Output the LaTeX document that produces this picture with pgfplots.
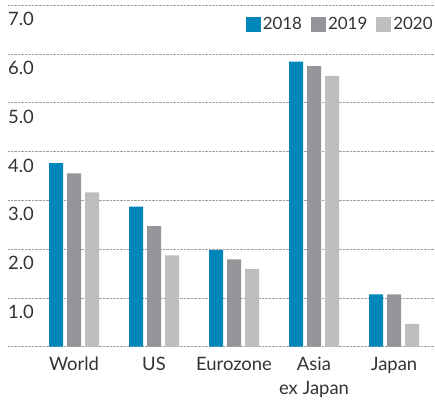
\documentclass[border=0pt]{standalone}
\usepackage{pgfplots}
\pgfplotsset{compat=1.18}
\usepackage{fontspec}
\setmainfont{Lato}
\definecolor{c18}{HTML}{0087BA}
\definecolor{c19}{HTML}{939598}
\definecolor{c20}{HTML}{BCBEC0}
\definecolor{txt}{HTML}{333333}
\definecolor{gridc}{HTML}{A0A0A0}
\begin{document}
\begin{tikzpicture}
\useasboundingbox (-8bp,-53.3bp) rectangle (427bp,346.7bp);
\begin{axis}[
    at={(0,0)}, anchor=south west,
    x=80bp, y=48.8bp,
    xmin=-0.825, xmax=4.51,
    ymin=0, ymax=7,
    axis line style={draw=none},
    ybar=4bp, bar width=14bp,
    ymajorgrids=true,
    grid style={gridc, densely dotted, line width=0.6bp},
    ytick={0,1,...,7},
    yticklabel style={anchor=north west, inner sep=0pt, yshift=-7bp, xshift=0bp},
    yticklabel={\ifdim\tick pt>0.5pt\pgfmathprintnumber[fixed, fixed zerofill, precision=1]{\tick}\fi},
    xtick={0,1,2,3,4},
    xticklabels={World, US, Eurozone, Asia\\ex Japan, Japan},
    xticklabel style={align=center, yshift=-7bp},
    major tick length=0pt,
    tick label style={font=\fontsize{18.5}{24}\selectfont, text=txt},
    /pgf/number format/assume math mode=true,
    legend columns=-1,
    legend style={at={(1,1)}, anchor=north east, yshift=-10bp, draw=none, fill=none,
        font=\fontsize{17}{20}\selectfont, text=txt, inner sep=0pt,
        /tikz/every even column/.append style={column sep=7bp}},
]
\addplot[fill=c18, draw=none, legend image code/.code={\fill[c18] (0bp,-7.5bp) rectangle (15bp,7.5bp);}]
    coordinates {(0,3.76) (1,2.87) (2,1.98) (3,5.84) (4,1.07)};
\addplot[fill=c19, draw=none, legend image code/.code={\fill[c19] (0bp,-7.5bp) rectangle (15bp,7.5bp);}]
    coordinates {(0,3.55) (1,2.47) (2,1.79) (3,5.75) (4,1.07)};
\addplot[fill=c20, draw=none, legend image code/.code={\fill[c20] (0bp,-7.5bp) rectangle (15bp,7.5bp);}]
    coordinates {(0,3.16) (1,1.87) (2,1.59) (3,5.55) (4,0.47)};
\legend{2018, 2019, 2020}
\end{axis}
\end{tikzpicture}
\end{document}
